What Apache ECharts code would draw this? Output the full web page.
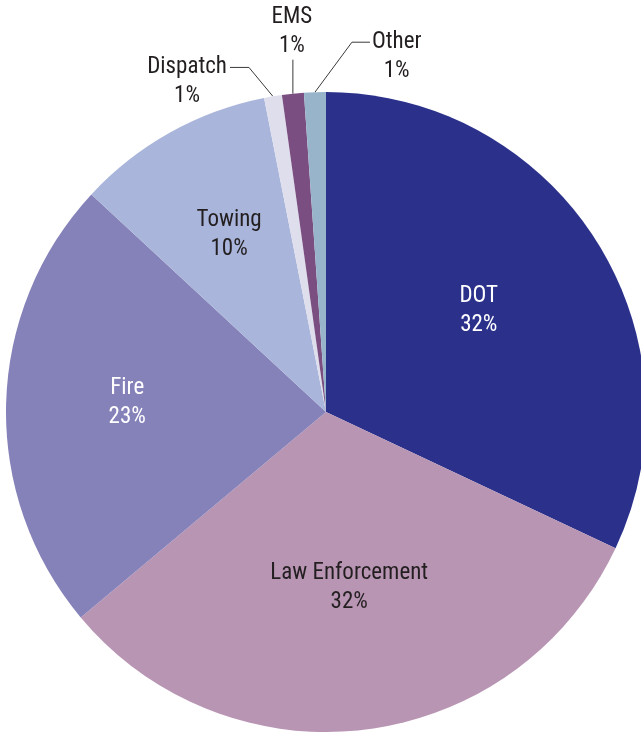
<!DOCTYPE html>
<html>
<head>
<meta charset="utf-8">
<script src="https://cdn.jsdelivr.net/npm/echarts@6/dist/echarts.min.js"></script>
<style>
html,body{margin:0;padding:0;background:#fff;}
#c{width:641px;height:732px;}
</style>
</head>
<body>
<div id="c"></div>
<script>
const categories = ['DOT', 'Law Enforcement', 'Fire', 'Towing', 'Dispatch', 'EMS', 'Other'];
const values = [32.0, 31.9, 23.0, 10.0, 0.9, 1.1, 1.1];
const colors = ['#2b318b', '#b995b4', '#8581b9', '#a9b5da', '#dedeed', '#7a4e80', '#97b4cb'];
const labelColors = ['#ffffff', '#231f20', '#ffffff', '#231f20', '#231f20', '#231f20', '#231f20'];

const CX = 326, CY = 412, R = 320;
const total = values.reduce((a, b) => a + b, 0);
function midAngle(i) {
  let cum = 0;
  for (let k = 0; k < i; k++) cum += values[k];
  return (cum + values[i] / 2) / total * 2 * Math.PI;
}
function edgePoint(i) {
  const t = midAngle(i);
  return [CX + R * Math.sin(t), CY - R * Math.cos(t)];
}

const FONT = '"Roboto Condensed", "Liberation Sans Narrow", "Arial Narrow", Roboto, sans-serif';

const chart = echarts.init(document.getElementById('c'), null, {renderer: 'canvas'});
chart.setOption({
  animation: false,
  backgroundColor: '#ffffff',
  series: [{
    type: 'pie',
    center: [CX, CY],
    radius: R,
    startAngle: 90,
    clockwise: true,
    avoidLabelOverlap: false,
    label: {
      show: true,
      position: 'inside',
      fontFamily: FONT,
      fontSize: 23,
      lineHeight: 29,
      formatter: p => p.name + '\n' + Math.round(p.percent) + '%'
    },
    labelLine: {show: true, lineStyle: {color: '#3a3a3a', width: 1}},
    labelLayout: function (p) {
      const i = p.dataIndex;
      const r = p.labelRect;
      const h = r.height, w = r.width;
      if (values[i] >= 5) {
        const lx = r.x + r.width / 2, ly = r.y + r.height / 2;
        const k = values[i] > 30 ? 0.11 : 0.22;
        return {dx: (lx - CX) * k, dy: (ly - CY) * k - 4};
      }
      const e = edgePoint(i);
      if (categories[i] === 'Dispatch') {
        const p1 = [e[0] - 24, e[1] - 29];
        const p2 = [p1[0] - 19, p1[1]];
        return {x: p2[0] - 3 - w / 2, y: p2[1] + h / 4, align: 'center', verticalAlign: 'middle',
          labelLinePoints: [e, p1, p2]};
      }
      if (categories[i] === 'EMS') {
        const p1 = [e[0], e[1] - 34];
        return {x: p1[0] - 1, y: p1[1] - h / 2 + 1, align: 'center', verticalAlign: 'middle',
          labelLinePoints: [e, p1, p1]};
      }
      const p1 = [e[0] + 37, e[1] - 50];
      const p2 = [p1[0] + 18, p1[1]];
      return {x: p2[0] + 2 + w / 2, y: p2[1] + h / 4, align: 'center', verticalAlign: 'middle',
        labelLinePoints: [e, p1, p2]};
    },
    data: categories.map((name, i) => ({
      name: name,
      value: values[i],
      itemStyle: {color: colors[i]},
      label: values[i] >= 5
        ? {color: labelColors[i]}
        : {color: labelColors[i], position: 'outside'},
      labelLine: {show: values[i] < 5}
    }))
  }]
});
</script>
</body>
</html>
